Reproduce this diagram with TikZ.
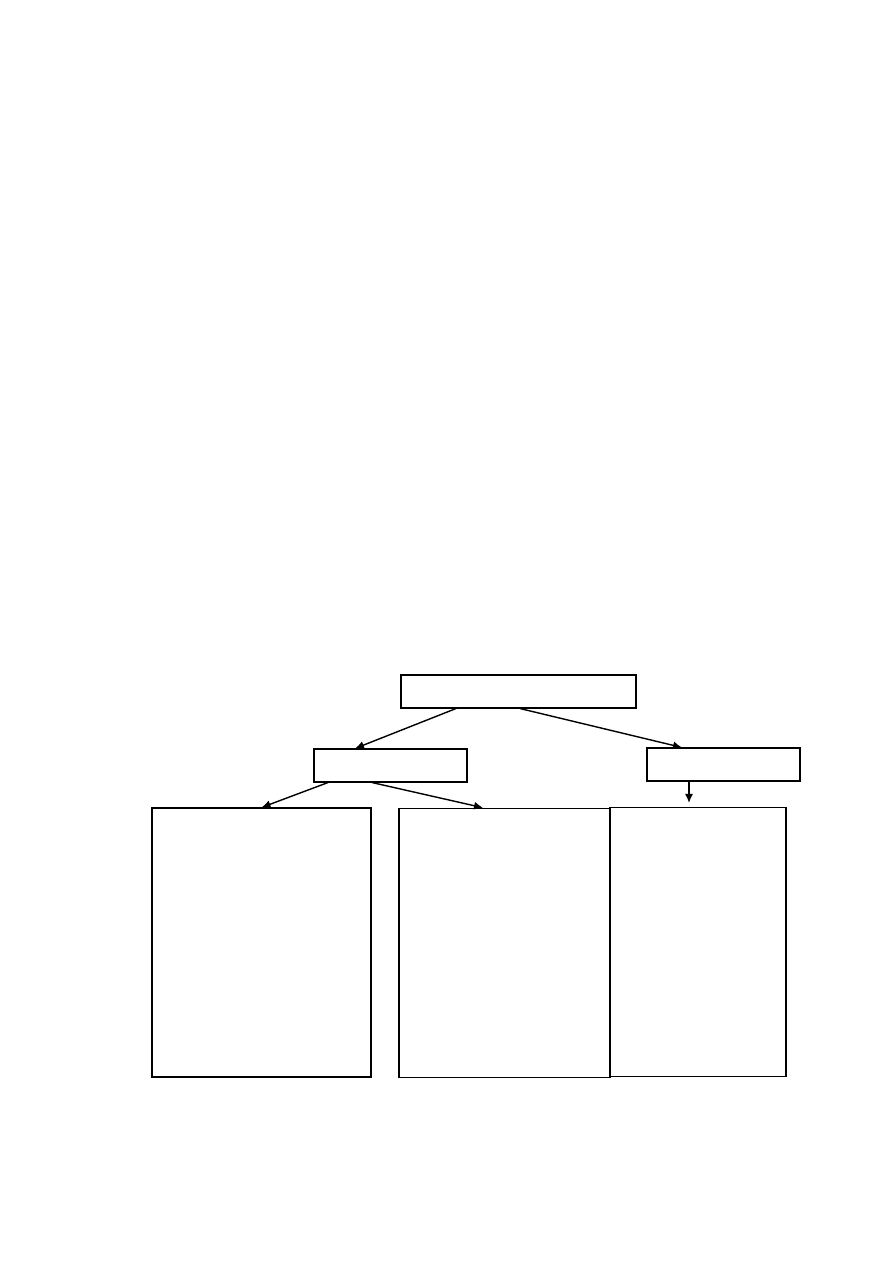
\documentclass[tikz,border=0pt]{standalone}
\usetikzlibrary{arrows.meta}
\begin{document}
\begin{tikzpicture}[
		every node/.style={rectangle, draw, line width=0.6pt, inner sep=0},
		widebox/.style={minimum width=3.06cm, minimum height=0.66cm},
		tallbox/.style={minimum height=5.38cm},
		link/.style={->, >={Latex[length=1.8mm, width=1.6mm]}, line width=0.8pt},
	]
	\useasboundingbox (0,0) rectangle (17.86,-25.26);
	\node[minimum width=4.70cm, minimum height=0.66cm] (top) at (10.37,-13.83) {};
	\node[widebox] (left) at (7.81,-15.31) {};
	\node[widebox] (right) at (14.47,-15.29) {};
	\node[tallbox, minimum width=4.38cm] (boxA) at (5.23,-18.85) {};
	\node[tallbox, minimum width=4.22cm, line width=0.9pt] (boxB) at (10.09,-18.86) {};
	\node[tallbox, minimum width=3.52cm] (boxC) at (13.96,-18.84) {};
	\draw[link] ([xshift=-1.25cm]top.south) -- ([xshift=-0.71cm]left.north);
	\draw[link] ([xshift=0.03cm]top.south) -- ([xshift=-0.83cm]right.north);
	\draw[link] ([xshift=-1.25cm]left.south) -- (boxA.north);
	\draw[link] ([xshift=-0.37cm]left.south) -- ([xshift=-0.43cm]boxB.north);
	\draw[link, shorten >=0.08cm] ([xshift=-0.69cm]right.south) -- ([xshift=-0.69cm]right.south |- boxC.north);
\end{tikzpicture}
\end{document}
